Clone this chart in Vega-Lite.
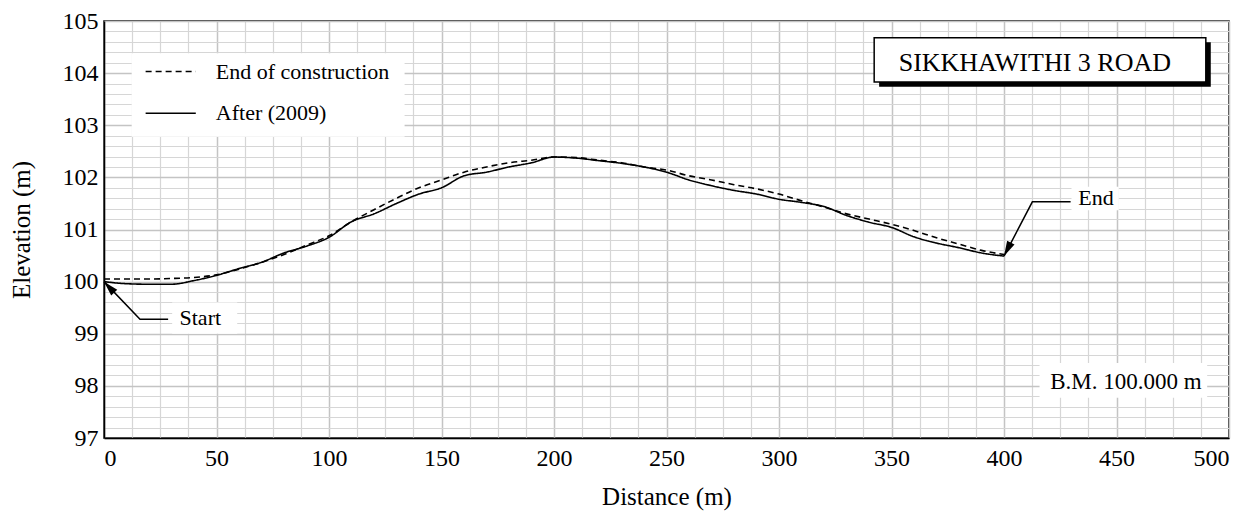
{
  "$schema": "https://vega.github.io/schema/vega-lite/v6.json",
  "width": 1125,
  "height": 417,
  "autosize": {"type": "none"},
  "padding": {"left": 104, "top": 21, "right": 23, "bottom": 78},
  "background": "white",
  "config": {
    "font": "Liberation Serif",
    "view": {"stroke": "black", "strokeWidth": 1.5},
    "axis": {
      "labelFont": "Liberation Serif", "titleFont": "Liberation Serif",
      "labelColor": "black", "titleColor": "black",
      "labelFontSize": 24, "titleFontSize": 25, "titleFontWeight": "normal",
      "domainColor": "black", "domainWidth": 1.5, "ticks": false, "labelOverlap": false
    }
  },
  "datasets": {
    "profile": [
      {"distance": 0, "elevation": 100.05, "series": "End of construction"},
      {"distance": 10, "elevation": 100.05, "series": "End of construction"},
      {"distance": 20, "elevation": 100.05, "series": "End of construction"},
      {"distance": 30, "elevation": 100.06, "series": "End of construction"},
      {"distance": 40, "elevation": 100.08, "series": "End of construction"},
      {"distance": 50, "elevation": 100.13, "series": "End of construction"},
      {"distance": 60, "elevation": 100.24, "series": "End of construction"},
      {"distance": 70, "elevation": 100.37, "series": "End of construction"},
      {"distance": 80, "elevation": 100.52, "series": "End of construction"},
      {"distance": 90, "elevation": 100.7, "series": "End of construction"},
      {"distance": 100, "elevation": 100.88, "series": "End of construction"},
      {"distance": 110, "elevation": 101.15, "series": "End of construction"},
      {"distance": 120, "elevation": 101.38, "series": "End of construction"},
      {"distance": 130, "elevation": 101.6, "series": "End of construction"},
      {"distance": 140, "elevation": 101.8, "series": "End of construction"},
      {"distance": 150, "elevation": 101.95, "series": "End of construction"},
      {"distance": 160, "elevation": 102.1, "series": "End of construction"},
      {"distance": 170, "elevation": 102.2, "series": "End of construction"},
      {"distance": 180, "elevation": 102.28, "series": "End of construction"},
      {"distance": 190, "elevation": 102.33, "series": "End of construction"},
      {"distance": 200, "elevation": 102.39, "series": "End of construction"},
      {"distance": 210, "elevation": 102.38, "series": "End of construction"},
      {"distance": 220, "elevation": 102.33, "series": "End of construction"},
      {"distance": 230, "elevation": 102.28, "series": "End of construction"},
      {"distance": 240, "elevation": 102.2, "series": "End of construction"},
      {"distance": 250, "elevation": 102.14, "series": "End of construction"},
      {"distance": 260, "elevation": 102.03, "series": "End of construction"},
      {"distance": 270, "elevation": 101.95, "series": "End of construction"},
      {"distance": 280, "elevation": 101.86, "series": "End of construction"},
      {"distance": 290, "elevation": 101.78, "series": "End of construction"},
      {"distance": 300, "elevation": 101.68, "series": "End of construction"},
      {"distance": 310, "elevation": 101.55, "series": "End of construction"},
      {"distance": 320, "elevation": 101.43, "series": "End of construction"},
      {"distance": 330, "elevation": 101.3, "series": "End of construction"},
      {"distance": 340, "elevation": 101.2, "series": "End of construction"},
      {"distance": 350, "elevation": 101.1, "series": "End of construction"},
      {"distance": 360, "elevation": 100.98, "series": "End of construction"},
      {"distance": 370, "elevation": 100.84, "series": "End of construction"},
      {"distance": 380, "elevation": 100.72, "series": "End of construction"},
      {"distance": 390, "elevation": 100.6, "series": "End of construction"},
      {"distance": 400, "elevation": 100.52, "series": "End of construction"},
      {"distance": 0, "elevation": 100.0, "series": "After (2009)"},
      {"distance": 10, "elevation": 99.96, "series": "After (2009)"},
      {"distance": 20, "elevation": 99.95, "series": "After (2009)"},
      {"distance": 30, "elevation": 99.95, "series": "After (2009)"},
      {"distance": 40, "elevation": 100.02, "series": "After (2009)"},
      {"distance": 50, "elevation": 100.12, "series": "After (2009)"},
      {"distance": 60, "elevation": 100.25, "series": "After (2009)"},
      {"distance": 70, "elevation": 100.37, "series": "After (2009)"},
      {"distance": 80, "elevation": 100.55, "series": "After (2009)"},
      {"distance": 90, "elevation": 100.68, "series": "After (2009)"},
      {"distance": 100, "elevation": 100.85, "series": "After (2009)"},
      {"distance": 110, "elevation": 101.15, "series": "After (2009)"},
      {"distance": 120, "elevation": 101.3, "series": "After (2009)"},
      {"distance": 130, "elevation": 101.5, "series": "After (2009)"},
      {"distance": 140, "elevation": 101.68, "series": "After (2009)"},
      {"distance": 150, "elevation": 101.8, "series": "After (2009)"},
      {"distance": 160, "elevation": 102.03, "series": "After (2009)"},
      {"distance": 170, "elevation": 102.1, "series": "After (2009)"},
      {"distance": 180, "elevation": 102.2, "series": "After (2009)"},
      {"distance": 190, "elevation": 102.28, "series": "After (2009)"},
      {"distance": 200, "elevation": 102.39, "series": "After (2009)"},
      {"distance": 210, "elevation": 102.37, "series": "After (2009)"},
      {"distance": 220, "elevation": 102.32, "series": "After (2009)"},
      {"distance": 230, "elevation": 102.27, "series": "After (2009)"},
      {"distance": 240, "elevation": 102.2, "series": "After (2009)"},
      {"distance": 250, "elevation": 102.1, "series": "After (2009)"},
      {"distance": 260, "elevation": 101.95, "series": "After (2009)"},
      {"distance": 270, "elevation": 101.84, "series": "After (2009)"},
      {"distance": 280, "elevation": 101.75, "series": "After (2009)"},
      {"distance": 290, "elevation": 101.68, "series": "After (2009)"},
      {"distance": 300, "elevation": 101.58, "series": "After (2009)"},
      {"distance": 310, "elevation": 101.52, "series": "After (2009)"},
      {"distance": 320, "elevation": 101.44, "series": "After (2009)"},
      {"distance": 330, "elevation": 101.27, "series": "After (2009)"},
      {"distance": 340, "elevation": 101.14, "series": "After (2009)"},
      {"distance": 350, "elevation": 101.04, "series": "After (2009)"},
      {"distance": 360, "elevation": 100.86, "series": "After (2009)"},
      {"distance": 370, "elevation": 100.74, "series": "After (2009)"},
      {"distance": 380, "elevation": 100.65, "series": "After (2009)"},
      {"distance": 390, "elevation": 100.55, "series": "After (2009)"},
      {"distance": 400, "elevation": 100.49, "series": "After (2009)"}
    ],
    "boxes": [
      {"name": "legend", "x": 12.3, "x2": 133.6, "y": 102.78, "y2": 104.38},
      {"name": "bm", "x": 415.8, "x2": 490.3, "y": 97.77, "y2": 98.44},
      {"name": "start", "x": 30.3, "x2": 59.2, "y": 99.0, "y2": 99.6},
      {"name": "end", "x": 430.0, "x2": 451.0, "y": 101.37, "y2": 101.82}
    ],
    "legendkey": [
      {"series": "End of construction", "x": 18.5, "x2": 40.8, "y": 104.03, "tx": 49.7},
      {"series": "After (2009)", "x": 18.5, "x2": 40.8, "y": 103.23, "tx": 49.7}
    ],
    "titlebox": [{"x": 342.3, "x2": 489.7, "y": 103.83, "y2": 104.68}],
    "shadow": [{"x": 344.5, "x2": 491.9, "y": 103.74, "y2": 104.59}],
    "leaders": [
      {"label": "Start", "order": 1, "distance": 0, "elevation": 100.0},
      {"label": "Start", "order": 2, "distance": 16.0, "elevation": 99.28},
      {"label": "Start", "order": 3, "distance": 28.5, "elevation": 99.28},
      {"label": "End", "order": 1, "distance": 400, "elevation": 100.49},
      {"label": "End", "order": 2, "distance": 412.6, "elevation": 101.53},
      {"label": "End", "order": 3, "distance": 429.6, "elevation": 101.53}
    ],
    "labels": [
      {"text": "SIKKHAWITHI 3 ROAD", "distance": 413.7, "elevation": 104.2, "kind": "title"},
      {"text": "B.M. 100.000 m", "distance": 454.2, "elevation": 98.08, "kind": "bm"},
      {"text": "Start", "distance": 42.8, "elevation": 99.3, "kind": "note"},
      {"text": "End", "distance": 440.9, "elevation": 101.6, "kind": "note"}
    ]
  },
  "layer": [
    {
      "data": {"name": "boxes"},
      "mark": {"type": "rect", "fill": "white"},
      "encoding": {
        "x": {
          "field": "x", "type": "quantitative",
          "scale": {"domain": [0, 500], "nice": false, "zero": false},
          "axis": {
            "title": "Distance (m)",
            "values": [0,12.5,25,37.5,50,62.5,75,87.5,100,112.5,125,137.5,150,162.5,175,187.5,200,212.5,225,237.5,250,262.5,275,287.5,300,312.5,325,337.5,350,362.5,375,387.5,400,412.5,425,437.5,450,462.5,475,487.5,500],
            "tickCount": 1000,
            "labelExpr": "datum.value % 50 === 0 ? format(datum.value, 'd') : ''",
            "labelOverlap": false,
            "labelPadding": 8,
            "titlePadding": 14,
            "grid": true,
            "gridColor": {"condition": {"test": "datum.value % 50 === 0", "value": "#c4c4c4"}, "value": "#d6d6d6"},
            "gridWidth": {"condition": {"test": "datum.value % 50 === 0", "value": 1.5}, "value": 1.2}
          }
        },
        "x2": {"field": "x2"},
        "y": {
          "field": "y", "type": "quantitative",
          "scale": {"domain": [97, 105], "nice": false, "zero": false},
          "axis": {
            "title": "Elevation (m)",
            "values": [97,97.2,97.4,97.6,97.8,98,98.2,98.4,98.6,98.8,99,99.2,99.4,99.6,99.8,100,100.2,100.4,100.6,100.8,101,101.2,101.4,101.6,101.8,102,102.2,102.4,102.6,102.8,103,103.2,103.4,103.6,103.8,104,104.2,104.4,104.6,104.8,105],
            "tickCount": 1000,
            "labelExpr": "abs(datum.value - round(datum.value)) < 0.001 ? format(datum.value, 'd') : ''",
            "labelOverlap": false,
            "labelPadding": 6,
            "titlePadding": 28,
            "grid": true,
            "gridColor": {"condition": {"test": "abs(datum.value - round(datum.value)) < 0.001", "value": "#c4c4c4"}, "value": "#d6d6d6"},
            "gridWidth": {"condition": {"test": "abs(datum.value - round(datum.value)) < 0.001", "value": 1.5}, "value": 1.2}
          }
        },
        "y2": {"field": "y2"}
      }
    },
    {
      "data": {"name": "shadow"},
      "mark": {"type": "rect", "fill": "black"},
      "encoding": {
        "x": {"field": "x", "type": "quantitative"},
        "x2": {"field": "x2"},
        "y": {"field": "y", "type": "quantitative"},
        "y2": {"field": "y2"}
      }
    },
    {
      "data": {"name": "titlebox"},
      "mark": {"type": "rect", "fill": "white", "stroke": "black", "strokeWidth": 1.5},
      "encoding": {
        "x": {"field": "x", "type": "quantitative"},
        "x2": {"field": "x2"},
        "y": {"field": "y", "type": "quantitative"},
        "y2": {"field": "y2"}
      }
    },
    {
      "data": {"name": "profile"},
      "mark": {"type": "line", "color": "black", "strokeWidth": 1.6, "interpolate": "monotone"},
      "encoding": {
        "x": {"field": "distance", "type": "quantitative"},
        "y": {"field": "elevation", "type": "quantitative"},
        "strokeDash": {
          "field": "series", "type": "nominal",
          "scale": {"domain": ["End of construction", "After (2009)"], "range": [[6, 4], [1, 0]]},
          "legend": null
        }
      }
    },
    {
      "data": {"name": "legendkey"},
      "mark": {"type": "rule", "color": "black", "strokeWidth": 1.6},
      "encoding": {
        "x": {"field": "x", "type": "quantitative"},
        "x2": {"field": "x2"},
        "y": {"field": "y", "type": "quantitative"},
        "strokeDash": {"field": "series", "type": "nominal", "legend": null}
      }
    },
    {
      "data": {"name": "legendkey"},
      "mark": {"type": "text", "font": "Liberation Serif", "fontSize": 22, "color": "black", "align": "left", "baseline": "middle"},
      "encoding": {
        "x": {"field": "tx", "type": "quantitative"},
        "y": {"field": "y", "type": "quantitative"},
        "text": {"field": "series"}
      }
    },
    {
      "data": {"name": "leaders"},
      "mark": {"type": "line", "color": "black", "strokeWidth": 1.5},
      "encoding": {
        "x": {"field": "distance", "type": "quantitative"},
        "y": {"field": "elevation", "type": "quantitative"},
        "detail": {"field": "label"},
        "order": {"field": "order"}
      }
    },
    {
      "data": {"name": "leaders"},
      "transform": [{"filter": "datum.label === 'Start' && datum.order === 1"}],
      "mark": {"type": "point", "shape": "M0,0L-0.55,2L0.55,2Z", "filled": true, "color": "black", "opacity": 1, "size": 225, "angle": 317},
      "encoding": {
        "x": {"field": "distance", "type": "quantitative"},
        "y": {"field": "elevation", "type": "quantitative"}
      }
    },
    {
      "data": {"name": "leaders"},
      "transform": [{"filter": "datum.label === 'End' && datum.order === 1"}],
      "mark": {"type": "point", "shape": "M0,0L-0.55,2L0.55,2Z", "filled": true, "color": "black", "opacity": 1, "size": 225, "angle": 207},
      "encoding": {
        "x": {"field": "distance", "type": "quantitative"},
        "y": {"field": "elevation", "type": "quantitative"}
      }
    },
    {
      "data": {"name": "labels"},
      "transform": [{"filter": "datum.kind === 'title'"}],
      "mark": {"type": "text", "font": "Liberation Serif", "fontSize": 26, "color": "black", "align": "center", "baseline": "middle"},
      "encoding": {
        "x": {"field": "distance", "type": "quantitative"},
        "y": {"field": "elevation", "type": "quantitative"},
        "text": {"field": "text"}
      }
    },
    {
      "data": {"name": "labels"},
      "transform": [{"filter": "datum.kind === 'bm'"}],
      "mark": {"type": "text", "font": "Liberation Serif", "fontSize": 23, "color": "black", "align": "center", "baseline": "middle"},
      "encoding": {
        "x": {"field": "distance", "type": "quantitative"},
        "y": {"field": "elevation", "type": "quantitative"},
        "text": {"field": "text"}
      }
    },
    {
      "data": {"name": "labels"},
      "transform": [{"filter": "datum.kind === 'note'"}],
      "mark": {"type": "text", "font": "Liberation Serif", "fontSize": 22, "color": "black", "align": "center", "baseline": "middle"},
      "encoding": {
        "x": {"field": "distance", "type": "quantitative"},
        "y": {"field": "elevation", "type": "quantitative"},
        "text": {"field": "text"}
      }
    }
  ]
}
